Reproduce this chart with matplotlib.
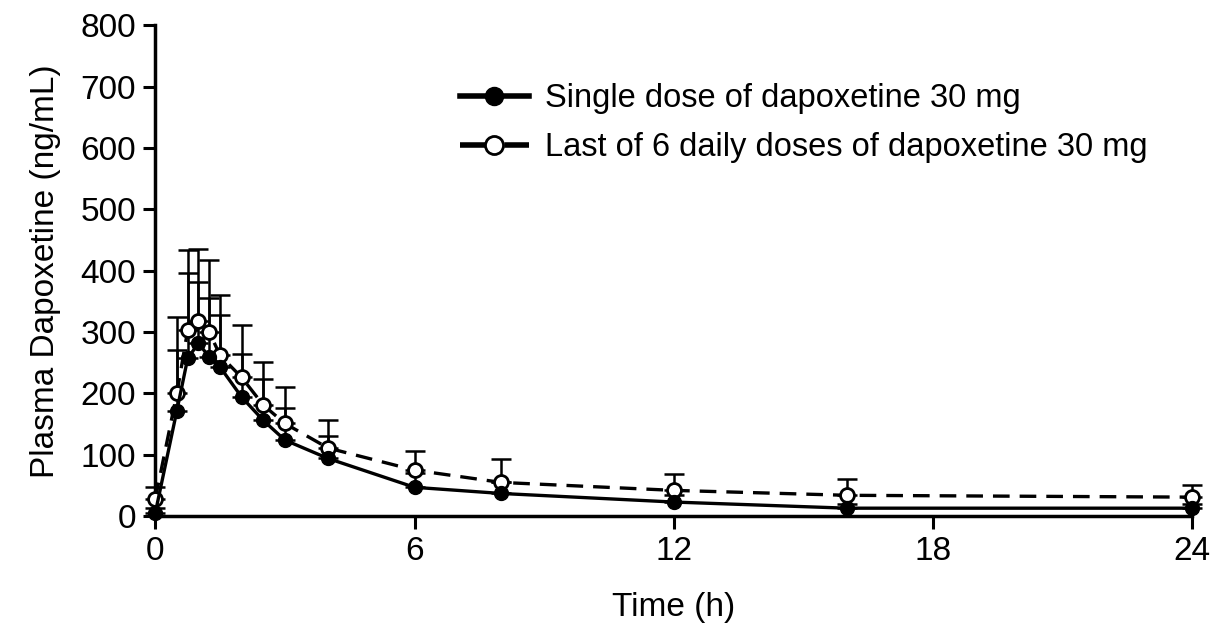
import numpy as np
import matplotlib
matplotlib.use("Agg")
import matplotlib.pyplot as plt

plt.rcParams['font.family'] = ['Liberation Sans', 'DejaVu Sans']

# time points (h)
t = [0, 0.5, 0.75, 1, 1.25, 1.5, 2, 2.5, 3, 4, 6, 8, 12, 16, 24]

# single dose (filled)
single = [5, 172, 257, 282, 259, 243, 194, 156, 124, 94, 47, 37, 23, 13, 13]
single_sd = [8, 98, 140, 99, 96, 84, 71, 67, 52, 36, 23, 18, 12, 7, 7]

# last of 6 daily doses (open)
multi = [28, 200, 303, 318, 300, 262, 226, 181, 151, 111, 75, 55, 42, 34, 31]
multi_sd = [20, 125, 130, 118, 117, 98, 85, 70, 59, 45, 31, 38, 26, 26, 19]

lab_single = 'Single dose of dapoxetine 30 mg'
lab_multi = 'Last of 6 daily doses of dapoxetine 30 mg'

fs = 24

fig = plt.figure(figsize=(12.13, 6.31), dpi=100)
ax = fig.add_axes([0.128, 0.182, 0.855, 0.778])

zeros = np.zeros(len(t))
ax.errorbar(t, single, yerr=[zeros, single_sd], fmt='none', ecolor='black',
            elinewidth=1.8, capsize=7, capthick=1.8, zorder=2, clip_on=False)
ax.errorbar(t, multi, yerr=[zeros, multi_sd], fmt='none', ecolor='black',
            elinewidth=1.8, capsize=7, capthick=1.8, zorder=2, clip_on=False)

ax.plot(t, single, '-o', color='black', lw=2.4, ms=10, mfc='black',
        mec='black', label=lab_single, zorder=4, clip_on=False)
ax.plot(t, multi, '--o', color='black', lw=2.4, ms=10, mfc='white',
        mec='black', mew=2, dashes=(5, 3), label=lab_multi, zorder=3,
        clip_on=False)

ax.set_xlim(0, 24)
ax.set_ylim(0, 800)
ax.set_xticks([0, 6, 12, 18, 24])
ax.set_yticks(range(0, 801, 100))
ax.spines['top'].set_visible(False)
ax.spines['right'].set_visible(False)
ax.spines['left'].set_linewidth(2.5)
ax.spines['bottom'].set_linewidth(2.5)
ax.tick_params(width=2.2, length=9, labelsize=fs, direction='out', pad=5)

ax.set_xlabel('Time (h)', fontsize=fs, labelpad=18)
ax.set_ylabel('Plasma Dapoxetine (ng/mL)', fontsize=fs, labelpad=14)

leg = ax.legend(loc='upper left', bbox_to_anchor=(0.294, 0.882), frameon=False,
                fontsize=23.5, handlelength=2.1, handletextpad=0.5,
                labelspacing=0.55, borderpad=0, borderaxespad=0,
                markerscale=1.3)
for h in leg.get_lines():
    h.set_linewidth(4)

fig.savefig('out.png', dpi=100)
